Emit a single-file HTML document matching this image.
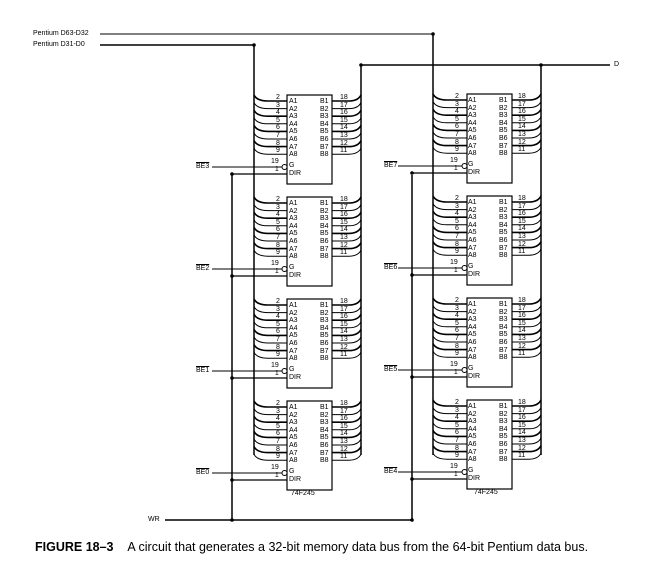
<!DOCTYPE html>
<html><head><meta charset="utf-8">
<style>
body{margin:0;width:646px;height:572px;background:#fff;position:relative;overflow:hidden;font-family:"Liberation Sans",sans-serif;color:#000}
.t{position:absolute;font-size:7px;line-height:7.6px;white-space:pre}
.l{position:absolute;font-size:7px;white-space:nowrap}
svg{position:absolute;left:0;top:0}
</style></head><body>
<svg id="s" width="646" height="572"></svg>

<div class="l" style="left:33px;top:30px">Pentium D63-D32</div>
<div class="l" style="left:33px;top:41px">Pentium D31-D0</div>
<div class="l" style="left:614px;top:61px">D</div>
<div class="l" style="left:148px;top:516px">WR</div>

<div class="l" style="left:196px;top:163px;text-decoration:overline">BE3</div>
<div class="l" style="left:196px;top:265px;text-decoration:overline">BE2</div>
<div class="l" style="left:196px;top:367px;text-decoration:overline">BE1</div>
<div class="l" style="left:196px;top:469px;text-decoration:overline">BE0</div>
<div class="l" style="left:384px;top:162px;text-decoration:overline">BE7</div>
<div class="l" style="left:384px;top:264px;text-decoration:overline">BE6</div>
<div class="l" style="left:384px;top:366px;text-decoration:overline">BE5</div>
<div class="l" style="left:384px;top:468px;text-decoration:overline">BE4</div>

<!-- left chips -->
<div class="t" style="left:289px;top:98px">A1
A2
A3
A4
A5
A6
A7
A8</div>
<div class="t" style="left:320px;top:98px">B1
B2
B3
B4
B5
B6
B7
B8</div>
<div class="t" style="left:276px;top:94px">2
3
4
5
6
7
8
9</div>
<div class="t" style="left:340px;top:94px">18
17
16
15
14
13
12
11</div>
<div class="t" style="left:289px;top:162px">G
DIR</div>
<div class="t" style="left:271px;top:158px">19
  1</div>

<div class="t" style="left:289px;top:200px">A1
A2
A3
A4
A5
A6
A7
A8</div>
<div class="t" style="left:320px;top:200px">B1
B2
B3
B4
B5
B6
B7
B8</div>
<div class="t" style="left:276px;top:196px">2
3
4
5
6
7
8
9</div>
<div class="t" style="left:340px;top:196px">18
17
16
15
14
13
12
11</div>
<div class="t" style="left:289px;top:264px">G
DIR</div>
<div class="t" style="left:271px;top:260px">19
  1</div>

<div class="t" style="left:289px;top:302px">A1
A2
A3
A4
A5
A6
A7
A8</div>
<div class="t" style="left:320px;top:302px">B1
B2
B3
B4
B5
B6
B7
B8</div>
<div class="t" style="left:276px;top:298px">2
3
4
5
6
7
8
9</div>
<div class="t" style="left:340px;top:298px">18
17
16
15
14
13
12
11</div>
<div class="t" style="left:289px;top:366px">G
DIR</div>
<div class="t" style="left:271px;top:362px">19
  1</div>

<div class="t" style="left:289px;top:404px">A1
A2
A3
A4
A5
A6
A7
A8</div>
<div class="t" style="left:320px;top:404px">B1
B2
B3
B4
B5
B6
B7
B8</div>
<div class="t" style="left:276px;top:400px">2
3
4
5
6
7
8
9</div>
<div class="t" style="left:340px;top:400px">18
17
16
15
14
13
12
11</div>
<div class="t" style="left:289px;top:468px">G
DIR</div>
<div class="t" style="left:271px;top:464px">19
  1</div>
<div class="l" style="left:291px;top:490px">74F245</div>

<!-- right chips -->
<div class="t" style="left:468px;top:97px">A1
A2
A3
A4
A5
A6
A7
A8</div>
<div class="t" style="left:499px;top:97px">B1
B2
B3
B4
B5
B6
B7
B8</div>
<div class="t" style="left:455px;top:93px">2
3
4
5
6
7
8
9</div>
<div class="t" style="left:518px;top:93px">18
17
16
15
14
13
12
11</div>
<div class="t" style="left:468px;top:161px">G
DIR</div>
<div class="t" style="left:450px;top:157px">19
  1</div>

<div class="t" style="left:468px;top:199px">A1
A2
A3
A4
A5
A6
A7
A8</div>
<div class="t" style="left:499px;top:199px">B1
B2
B3
B4
B5
B6
B7
B8</div>
<div class="t" style="left:455px;top:195px">2
3
4
5
6
7
8
9</div>
<div class="t" style="left:518px;top:195px">18
17
16
15
14
13
12
11</div>
<div class="t" style="left:468px;top:263px">G
DIR</div>
<div class="t" style="left:450px;top:259px">19
  1</div>

<div class="t" style="left:468px;top:301px">A1
A2
A3
A4
A5
A6
A7
A8</div>
<div class="t" style="left:499px;top:301px">B1
B2
B3
B4
B5
B6
B7
B8</div>
<div class="t" style="left:455px;top:297px">2
3
4
5
6
7
8
9</div>
<div class="t" style="left:518px;top:297px">18
17
16
15
14
13
12
11</div>
<div class="t" style="left:468px;top:365px">G
DIR</div>
<div class="t" style="left:450px;top:361px">19
  1</div>

<div class="t" style="left:468px;top:403px">A1
A2
A3
A4
A5
A6
A7
A8</div>
<div class="t" style="left:499px;top:403px">B1
B2
B3
B4
B5
B6
B7
B8</div>
<div class="t" style="left:455px;top:399px">2
3
4
5
6
7
8
9</div>
<div class="t" style="left:518px;top:399px">18
17
16
15
14
13
12
11</div>
<div class="t" style="left:468px;top:467px">G
DIR</div>
<div class="t" style="left:450px;top:463px">19
  1</div>
<div class="l" style="left:474px;top:489px">74F245</div>

<div style="position:absolute;left:35px;top:540px;font-size:12.5px;white-space:nowrap"><b>FIGURE 18–3</b>&nbsp;&nbsp;&nbsp;&nbsp;A circuit that generates a 32-bit memory data bus from the 64-bit Pentium data bus.</div>

<script>
var s=document.getElementById('s'),h='';
function L(x1,y1,x2,y2,w){h+='<line x1="'+x1+'" y1="'+y1+'" x2="'+x2+'" y2="'+y2+'" stroke="#000" stroke-width="'+(w||1)+'"/>';}
function P(d,w){h+='<path d="'+d+'" fill="none" stroke="#000" stroke-width="'+(w||1)+'"/>';}
function D(x,y){h+='<circle cx="'+x+'" cy="'+y+'" r="1.8" fill="#000"/>';}
L(100,34,433,34,1);L(433,34,433,455,1.5);
L(100,45,254,45,1.5);L(254,45,254,455,1.5);
L(360,65,610,65,1.5);L(361,65,361,455,1.5);L(541,65,541,455,1.5);
L(165,520,412,520,1.5);
L(232,175,232,520,1.5);L(412,175,412,520,1.5);
function chip(cx,cw,T,lb,rb,gx,dx,lblEnd){
  h+='<rect x="'+cx+'" y="'+T+'" width="'+cw+'" height="89" fill="#fff" stroke="#000" stroke-width="1.2"/>';
  for(var i=0;i<8;i++){var y=T+6+i*7.6;
    P('M'+lb+','+(y-6)+' Q'+(lb+3)+','+y+' '+(lb+14)+','+y+' H'+cx,i%2?1:1.6);
    P('M'+(cx+cw)+','+y+' H'+(rb-12)+' Q'+(rb-3)+','+y+' '+rb+','+(y-6),i%2?1:1.6);
  }
  var g=T+72,d=T+79;
  L(lblEnd,g,cx-5,g);h+='<circle cx="'+(cx-2.5)+'" cy="'+g+'" r="2.5" fill="#fff" stroke="#000"/>';
  L(dx,d,cx,d,1.3);D(dx,d);
}
[95,197,299,401].forEach(function(T){chip(287,45,T,254,361,0,232,212);});
[94,196,298,400].forEach(function(T){chip(467,45,T,433,541,0,412,398);});
D(232,520);D(412,520);D(254,45);D(433,34);D(361,65);D(541,65);
s.innerHTML=h;
</script>
</body></html>
